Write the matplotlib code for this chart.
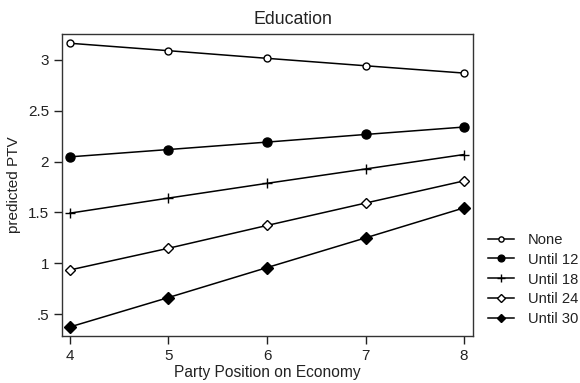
import matplotlib
matplotlib.use("Agg")
import matplotlib.pyplot as plt
from matplotlib.lines import Line2D

plt.rcParams['font.family'] = ['Liberation Sans', 'DejaVu Sans']

positions = [4, 5, 6, 7, 8]
none_vals = [3.162, 3.089, 3.014, 2.941, 2.869]
until12 = [2.046, 2.118, 2.191, 2.266, 2.339]
until18 = [1.493, 1.641, 1.786, 1.927, 2.069]
until24 = [0.935, 1.148, 1.372, 1.592, 1.810]
until30 = [0.375, 0.664, 0.958, 1.250, 1.545]
labels = ["None", "Until 12", "Until 18", "Until 24", "Until 30"]
yticks = [0.5, 1, 1.5, 2, 2.5, 3]
ytick_labels = [".5", "1", "1.5", "2", "2.5", "3"]

fig = plt.figure(figsize=(5.8, 3.83), dpi=100)
ax = fig.add_axes([61.5/580, 1 - 336/383, (473-61.5)/580, (336-34)/383])

styles = [
    dict(marker='o', mfc='white', ms=5, mew=1.0),
    dict(marker='o', mfc='black', ms=6.5, mew=1.0),
    dict(marker='+', mfc='black', ms=7, mew=1.0),
    dict(marker='D', mfc='white', ms=5.5, mew=1.0),
    dict(marker='D', mfc='black', ms=6, mew=1.0),
]
series = [none_vals, until12, until18, until24, until30]
for vals, lab, st in zip(series, labels, styles):
    ax.plot(positions, vals, color='black', lw=1.1, mec='black', label=lab,
            clip_on=False, **st)

ax.set_xlim(3.914, 8.091)
ax.set_ylim(0.286, 3.253)
ax.set_xticks(positions)
ax.set_yticks(yticks)
ax.set_yticklabels(ytick_labels)
ax.tick_params(direction='out', length=6, width=1, colors='#222222',
               labelsize=11, labelcolor='#222222', pad=3)
for s in ax.spines.values():
    s.set_linewidth(1.0)
    s.set_color('#333333')

ax.set_xlabel("Party Position on Economy", fontsize=11.2, color='#222222', labelpad=2)
ax.set_ylabel("predicted PTV", fontsize=11, color='#222222', labelpad=5)
fig.text(293/580, 1 - 20/383, "Education", fontsize=12.8, color='#222222',
         ha='center', va='center')

handles = []
for lab, st in zip(labels, styles):
    st2 = dict(st)
    st2['ms'] = st['ms'] * 0.75
    handles.append(Line2D([0], [0], color='black', lw=1.1, mec='black', **st2))
leg = fig.legend(handles, labels, loc='center left',
                 bbox_to_anchor=(488/580, 1 - 279.5/383), frameon=False,
                 fontsize=10.6, handlelength=1.75, handletextpad=0.95,
                 labelspacing=0.4, borderpad=0, borderaxespad=0)
for t in leg.get_texts():
    t.set_color('#222222')

fig.savefig("out.png", dpi=100)
